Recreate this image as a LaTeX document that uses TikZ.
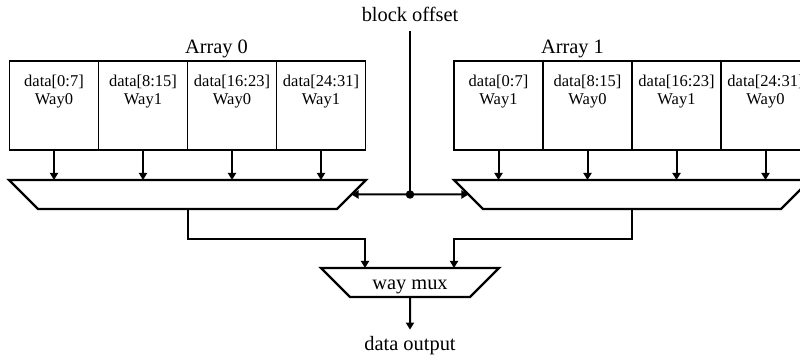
\documentclass[tikz,border=0pt]{standalone}
\usepackage{fontspec}
\setmainfont{Liberation Serif}
\usepackage{tikz}
\usetikzlibrary{calc}
\usetikzlibrary{arrows.meta}
\usetikzlibrary{shapes.geometric}
\usetikzlibrary{positioning}
\tikzset{
  cell/.style={draw, line width=1.2pt, minimum width=89pt, minimum height=89pt,
    inner sep=0pt, outer sep=0pt},
  celltext/.style={anchor=north, align=center, inner sep=0pt, yshift=-14pt,
    font=\fontsize{16.5}{18}\selectfont},
  bigtext/.style={inner sep=0pt, anchor=base, font=\fontsize{20.4}{24}\selectfont},
  mux/.style={draw, line width=2.2pt, trapezium, trapezium stretches body=true,
    shape border rotate=180, trapezium angle=45, inner sep=1pt, outer sep=0pt,
    text height=21pt, text depth=6pt, font=\fontsize{20.4}{24}\selectfont},
  wire/.style={line width=2pt},
  bus/.style={line width=2pt, -{Triangle[width=8pt,length=7pt]}},
  jdot/.style={circle, fill, inner sep=0pt, minimum size=8.5pt},
}
\begin{document}
\begin{tikzpicture}[x=1pt, y=-1pt]
    \useasboundingbox (0,0) rectangle (800,355);

    % array 0
    \node [cell, label={[celltext]north:{data[0:7]\\Way0}}] (a0c0) at (54,105.5) {};
    \node [cell, right=0pt of a0c0, label={[celltext]north:{data[8:15]\\Way1}}] (a0c1) {};
    \node [cell, right=0pt of a0c1, label={[celltext]north:{data[16:23]\\Way0}}] (a0c2) {};
    \node [cell, right=0pt of a0c2, label={[celltext]north:{data[24:31]\\Way1}}] (a0c3) {};
    \node [bigtext] (arr0) at (216.5,54) {Array 0};

    % array 1
    \node [cell, label={[celltext]north:{data[0:7]\\Way1}}] (a1c0) at (498.5,105.5) {};
    \node [cell, right=0pt of a1c0, label={[celltext]north:{data[8:15]\\Way0}}] (a1c1) {};
    \node [cell, right=0pt of a1c1, label={[celltext]north:{data[16:23]\\Way1}}] (a1c2) {};
    \node [cell, right=0pt of a1c2, label={[celltext]north:{data[24:31]\\Way0}}] (a1c3) {};
    \node [bigtext] (arr1) at (572.5,54) {Array 1};

    % muxes
    \node [mux, minimum width=357pt] (mux0) at (187.5,194.5) {};
    \node [mux, minimum width=356pt] (mux1) at (632,194.5) {};
    \node [mux, minimum width=178pt] (wmux) at (410,282.5) {way mux};

    \draw [bus] (a0c0.south) -- (a0c0.south |- mux0.north);
    \draw [bus] (a0c1.south) -- (a0c1.south |- mux0.north);
    \draw [bus] (a0c2.south) -- (a0c2.south |- mux0.north);
    \draw [bus] (a0c3.south) -- (a0c3.south |- mux0.north);
    \draw [bus] (a1c0.south) -- (a1c0.south |- mux1.north);
    \draw [bus] (a1c1.south) -- (a1c1.south |- mux1.north);
    \draw [bus] (a1c2.south) -- (a1c2.south |- mux1.north);
    \draw [bus] (a1c3.south) -- (a1c3.south |- mux1.north);

    % block offset select
    \node [bigtext] (boff) at (410,22) {block offset};
    \coordinate (bofftop) at (410,31);
    \node [jdot] (junc) at (410,194.5) {};
    \draw [wire] (bofftop) -- (junc.center);
    \draw [bus] (junc.center) -- (mux0.east);
    \draw [bus] (junc.center) -- (mux1.west);

    % way select
    \draw [bus] (mux0.south) -- ++(0,30) -| ($(wmux.north)+(-45,0)$);
    \draw [bus] (mux1.south) -- ++(0,30) -| ($(wmux.north)+(44,0)$);
    \node [bigtext] (dout) at (410,350) {data output};
    \draw [bus] (wmux.south) -- ([yshift=6pt]dout.north);
  \end{tikzpicture}
\end{document}
